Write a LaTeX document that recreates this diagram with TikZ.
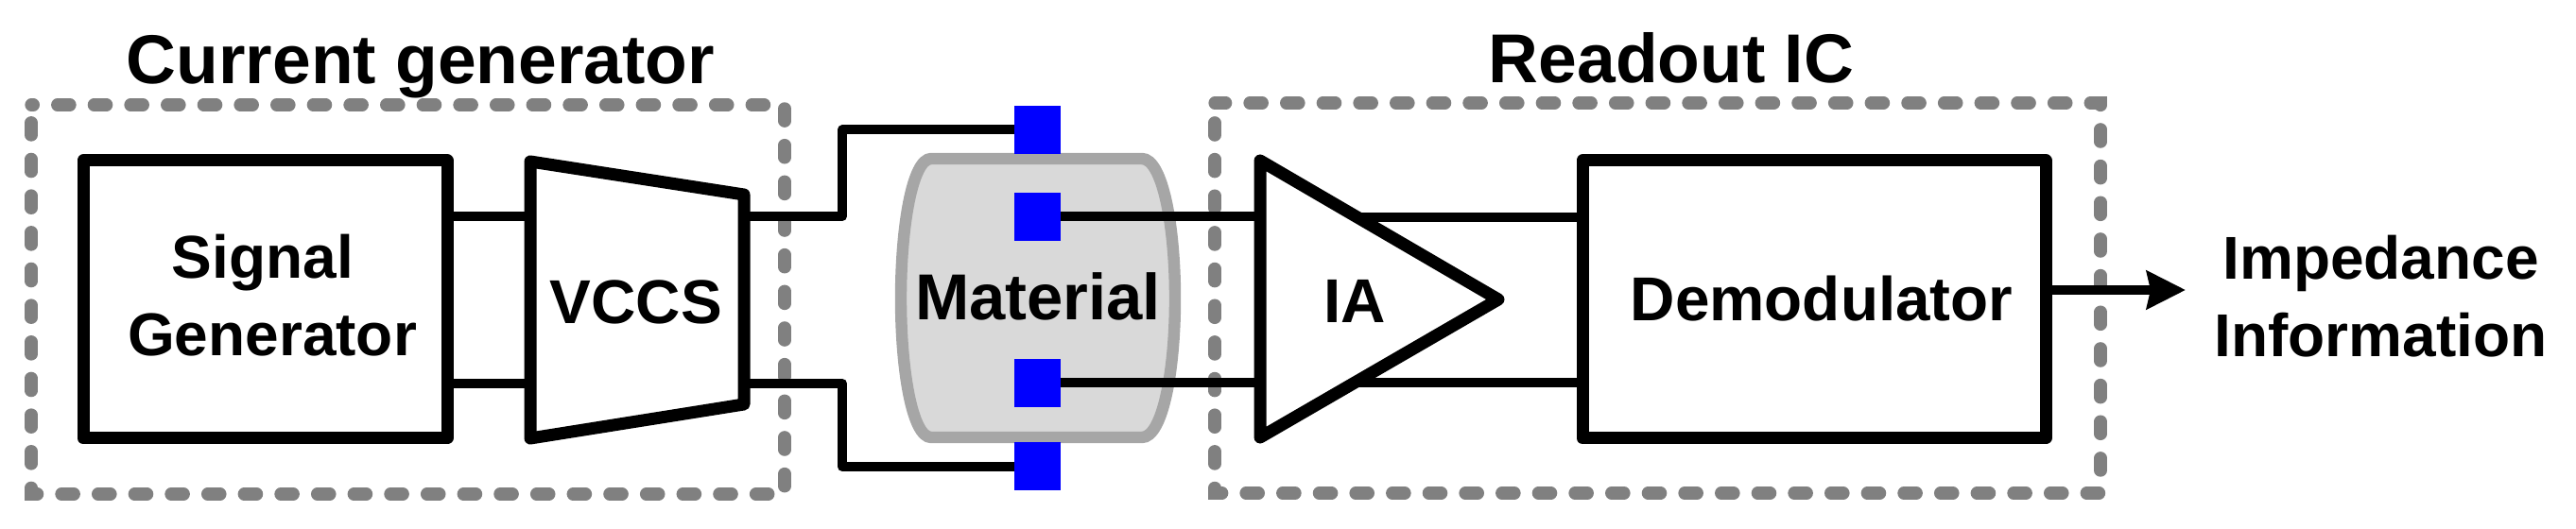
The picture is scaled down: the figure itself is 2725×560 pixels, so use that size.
\documentclass[tikz,border=0pt]{standalone}
\usepackage{fontspec}
\setmainfont{Liberation Sans}
\usetikzlibrary{arrows.meta}
\definecolor{dashgray}{HTML}{808080}
\definecolor{bodygray}{HTML}{A6A6A6}
\definecolor{fillgray}{HTML}{D9D9D9}

\begin{document}
\begin{tikzpicture}
  [
    x                  = 0.5pt,
    y                  = -0.5pt,
    every node/.style  = {font=\fontsize{32}{41}\selectfont\bfseries, inner sep=0pt, outer sep=0pt},
    title/.style       = {font=\fontsize{36.6}{44}\selectfont\bfseries, anchor=base},
    label/.style       = {anchor=base, align=center},
    biglabel/.style    = {label, font=\fontsize{32.8}{41}\selectfont\bfseries},
    block/.style       = {draw, line width=6.5pt, line join=round, fill=white},
    wire/.style        = {draw, line width=5pt, line join=round},
    group/.style       = {draw=dashgray, line width=6.6pt, line cap=round, dash pattern=on 6.7pt off 12.63pt},
    pad/.style         = {fill=blue, minimum width=24.5pt, minimum height=25.5pt}
  ]
  \useasboundingbox (0,0) rectangle (2725,560);

  \draw[group, dash phase=5.5pt] (33,111) -- (830,111) -- (830,523) -- (33,523) -- cycle;
  \draw[group, dash phase=0.85pt] (1285,109) -- (2222,109) -- (2222,522) -- (1285,522) -- cycle;
  \node[title] (currentgen) at (445,89) {Current generator};
  \node[title] (readout) at (1768,88) {Readout IC};

  \node[block, minimum width=192.5pt, minimum height=147pt] (siggen) at (280.5,317) {};
  \node[label] (siggentext) at (288,377) {Signal\hspace*{10pt}\\Generator};
  \node[block, minimum width=245pt, minimum height=147pt] (demod) at (1919,317) {};

  \coordinate (vccstl) at (561,171);
  \coordinate (vccstr) at (787,206);
  \coordinate (vccsbr) at (787,428);
  \coordinate (vccsbl) at (561,464);
  \coordinate (iatl) at (1333,170);
  \coordinate (iatip) at (1585,317);
  \coordinate (iabl) at (1333,463);

  \draw[wire] (siggen.east |- 0,229) -- (vccstl |- 0,229);
  \draw[wire] (siggen.east |- 0,406) -- (vccsbl |- 0,406);
  \draw[block] (vccstl) -- (vccstr) -- (vccsbr) -- (vccsbl) -- cycle;
  \node[biglabel] (vccs) at (673,343) {VCCS};

  \draw[draw=bodygray, fill=fillgray, line width=6.2pt]
    (985,168) -- (1208,168) .. controls (1230,168) and (1243,240) .. (1243,316)
    .. controls (1243,392) and (1230,463) .. (1208,463) -- (985,463)
    .. controls (965,463) and (953,392) .. (953,316)
    .. controls (953,240) and (965,168) .. (985,168) -- cycle;
  \node[label, font=\fontsize{34.4}{41}\selectfont\bfseries] (material) at (1098,339) {Material};

  \node[pad] (padone) at (1097.5,137.5) {};
  \node[pad] (padtwo) at (1097.5,229.5) {};
  \node[pad] (padthree) at (1097.5,405.5) {};
  \node[pad] (padfour) at (1097.5,494) {};

  \draw[wire] (vccstr |- 0,229) -- (891,229) -- (891,137.5) -- (padone.west);
  \draw[wire] (vccsbr |- 0,406) -- (891,406) -- (891,494) -- (padfour.west);
  \draw[wire] (padtwo.east) -- (iatl |- padtwo.east);
  \draw[wire] (padthree.east) -- (iatl |- padthree.east);

  \coordinate (iaup) at (1436,230);
  \coordinate (iadown) at (1436,405);
  \draw[wire] (iaup) -- (demod.west |- iaup);
  \draw[wire] (iadown) -- (demod.west |- iadown);
  \draw[block, fill=none] (iatl) -- (iatip) -- (iabl) -- cycle;
  \node[biglabel] (ia) at (1433,342) {IA};
  \node[biglabel] (demodtext) at (1927,340) {Demodulator};

  \coordinate (outtip) at (2312,307);
  \draw[line width=5pt, -{Stealth[length=20.5pt, width=20pt, inset=2pt]}] (demod.east |- outtip) -- (outtip);
  \node[label] (impedance) at (2518.5,378) {Impedance\\Information};
\end{tikzpicture}
\end{document}
